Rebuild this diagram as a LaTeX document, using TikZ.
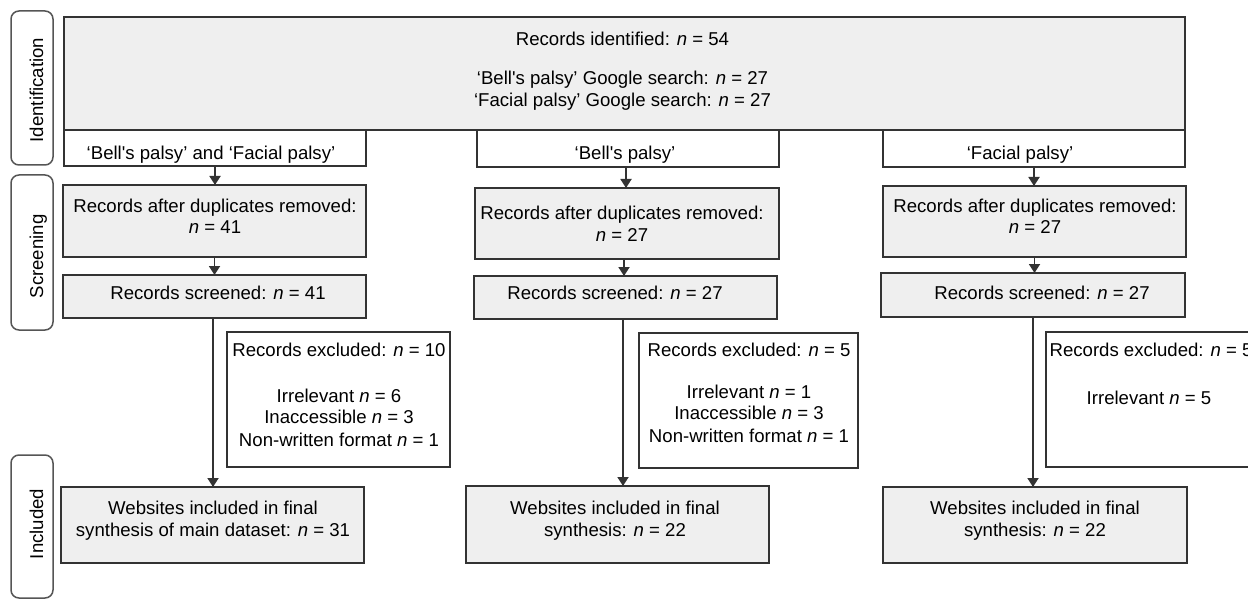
\documentclass[tikz,border=0pt]{standalone}
\usepackage{fontspec}
\setmainfont{Liberation Sans}[Ligatures=TeXOff]
\usetikzlibrary{arrows.meta}
\definecolor{boxfill}{HTML}{EFEFEF}
\definecolor{edgecol}{HTML}{333333}
\definecolor{sidecol}{HTML}{555555}
\tikzset{
  basebox/.style={draw=edgecol, line width=1.8pt, inner sep=0pt, outer sep=0pt, rectangle},
  graybox/.style={basebox, fill=boxfill},
  whitebox/.style={basebox, fill=white},
  sidebox/.style={draw=sidecol, line width=1.5pt, rounded corners=8pt, inner sep=0pt, outer sep=0pt, fill=white},
  txt/.style={inner sep=0pt, font=\fontsize{18.6}{22}\selectfont, text=black},
  sidetxt/.style={txt, rotate=90, anchor=base},
  arr/.style={draw=edgecol, line width=1.8pt, -{Triangle[width=11pt,length=9pt]}},
}
\newcommand\mkbox[6]{%
  \node[#1, minimum width={#5-#3}, minimum height={#6-#4}] (#2) at ({(#3+#5)/2},{(#4+#6)/2}) {};}
\newcommand\txt[4]{\node[txt, anchor=base] (#1) at ({#2},{#3+6.5}) {#4};}
\begin{document}
\begin{tikzpicture}[x=1pt,y=-1pt]
\clip (0,0) rectangle (1248,599);
\fill[white] (0,0) rectangle (1248,599);
% side labels
\mkbox{sidebox}{sid}{11}{11}{53}{165}
\mkbox{sidebox}{sscr}{11}{175}{53}{330}
\mkbox{sidebox}{sinc}{11}{455}{53}{598}
\node[sidetxt] (lid) at (43,90) {Identification};
\node[sidetxt] (lscr) at (43,256.5) {Screening};
\node[sidetxt] (linc) at (43,524) {Included};
% boxes
\mkbox{graybox}{top}{64}{17}{1185}{130}
\mkbox{whitebox}{sub1}{64}{130}{366}{166}
\mkbox{whitebox}{sub2}{477}{130}{779}{167}
\mkbox{whitebox}{sub3}{883}{130}{1185}{167}
\mkbox{graybox}{dup1}{63}{185}{366}{257}
\mkbox{graybox}{dup2}{475}{188}{779}{259}
\mkbox{graybox}{dup3}{883}{186}{1186}{257}
\mkbox{graybox}{scr1}{63}{275}{366}{318}
\mkbox{graybox}{scr2}{474}{276}{777}{319}
\mkbox{graybox}{scr3}{881}{273}{1185}{317}
\mkbox{whitebox}{exc1}{227}{332}{450}{467}
\mkbox{whitebox}{exc2}{639}{333}{858}{468}
\mkbox{whitebox}{exc3}{1046}{332}{1258}{467}
\mkbox{graybox}{web1}{61}{487}{364}{563}
\mkbox{graybox}{web2}{466}{486}{769}{563}
\mkbox{graybox}{web3}{883}{487}{1187}{563}
% texts
\txt{t1}{622.5}{39}{Records identified: \textit{n} = 54}
\txt{t2}{622.5}{78}{‘Bell's palsy’ Google search: \textit{n} = 27}
\txt{t3}{622.5}{100}{‘Facial palsy’ Google search: \textit{n} = 27}
\txt{s1}{211}{153}{‘Bell's palsy’ and ‘Facial palsy’}
\txt{s2}{625}{153}{‘Bell's palsy’}
\txt{s3}{1020}{153}{‘Facial palsy’}
\txt{d1a}{215}{206}{Records after duplicates removed:}
\txt{d1b}{215}{227}{\textit{n} = 41}
\txt{d2a}{622}{213}{Records after duplicates removed:}
\txt{d2b}{622}{235}{\textit{n} = 27}
\txt{d3a}{1035}{206}{Records after duplicates removed:}
\txt{d3b}{1035}{227}{\textit{n} = 27}
\txt{r1}{218}{293}{Records screened: \textit{n} = 41}
\txt{r2}{615}{293}{Records screened: \textit{n} = 27}
\txt{r3}{1042}{293}{Records screened: \textit{n} = 27}
\txt{e1a}{339}{350}{Records excluded: \textit{n} = 10}
\txt{e1b}{339}{396}{Irrelevant \textit{n} = 6}
\txt{e1c}{339}{417}{Inaccessible \textit{n} = 3}
\txt{e1d}{339}{440}{Non-written format \textit{n} = 1}
\txt{e2a}{749}{350}{Records excluded: \textit{n} = 5}
\txt{e2b}{749}{392}{Irrelevant \textit{n} = 1}
\txt{e2c}{749}{413}{Inaccessible \textit{n} = 3}
\txt{e2d}{749}{436}{Non-written format \textit{n} = 1}
\txt{e3a}{1151}{350}{Records excluded: \textit{n} = 5}
\txt{e3b}{1149}{398}{Irrelevant \textit{n} = 5}
\txt{w1a}{213}{508}{Websites included in final}
\txt{w1b}{213}{530}{synthesis of main dataset: \textit{n} = 31}
\txt{w2a}{615}{508}{Websites included in final}
\txt{w2b}{615}{530}{synthesis: \textit{n} = 22}
\txt{w3a}{1035}{508}{Websites included in final}
\txt{w3b}{1035}{530}{synthesis: \textit{n} = 22}
% arrows
\draw[arr] (sub1.south) -- (sub1.south |- dup1.north);
\draw[arr] (dup1.south) -- (dup1.south |- scr1.north);
\draw[arr] ([xshift=-1.5pt]scr1.south) -- ([xshift=-1.5pt]scr1.south |- web1.north);
\draw[arr] ([xshift=-2pt]sub2.south) -- ([xshift=-2pt]sub2.south |- dup2.north);
\draw[arr] ([xshift=-3pt]dup2.south) -- ([xshift=-3pt]dup2.south |- scr2.north);
\draw[arr] ([xshift=-2.5pt]scr2.south) -- ([xshift=-2.5pt]scr2.south |- web2.north);
\draw[arr] (sub3.south) -- (sub3.south |- dup3.north);
\draw[arr] (dup3.south) -- (dup3.south |- scr3.north);
\draw[arr] (scr3.south) -- (scr3.south |- web3.north);
\end{tikzpicture}
\end{document}
